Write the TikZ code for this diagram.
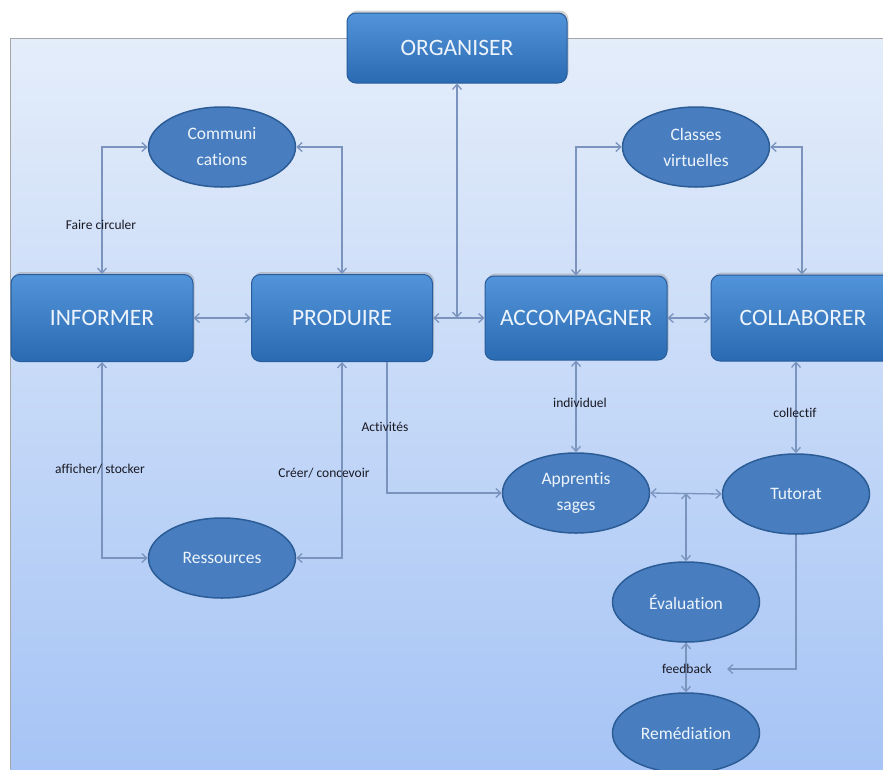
\documentclass[tikz,border=0pt]{standalone}
\usepackage{fontspec}
\setmainfont{Carlito}[Ligatures=NoCommon]
\usetikzlibrary{shapes.geometric,arrows.meta,shadows,calc}
\definecolor{boxtop}{RGB}{82,148,218}
\definecolor{boxbot}{RGB}{42,106,178}
\definecolor{boxline}{RGB}{40,92,155}
\definecolor{ellfill}{RGB}{72,126,192}
\definecolor{ellline}{RGB}{44,92,150}
\definecolor{conncol}{RGB}{122,148,190}
\definecolor{txtcol}{RGB}{238,244,251}
\definecolor{bgtop}{RGB}{228,237,250}
\definecolor{bgbot}{RGB}{166,196,245}
\definecolor{lblcol}{RGB}{25,25,35}
\tikzset{
  bigbox/.style={rectangle, rounded corners=9pt, draw=boxline, line width=1pt,
    top color=boxtop, bottom color=boxbot, text=txtcol, inner sep=0pt,
    font=\fontsize{23.5}{27}\selectfont,
    drop shadow={opacity=0.35, shadow xshift=1.5pt, shadow yshift=2.5pt}},
  oval/.style={ellipse, draw=ellline, line width=1.5pt, fill=ellfill, text=txtcol,
    minimum width=147pt, minimum height=80pt, inner sep=0pt, align=center,
    font=\fontsize{17.5}{26}\selectfont},
  conn/.style={draw=conncol, line width=1.3pt,
    arrows={Straight Barb[length=5pt,width=9pt]-Straight Barb[length=5pt,width=9pt]}},
  conn1/.style={draw=conncol, line width=1.3pt, -{Straight Barb[length=5pt,width=9pt]}},
  lbl/.style={text=lblcol, inner sep=0pt, font=\fontsize{13.5}{15}\selectfont}
}
\begin{document}
\begin{tikzpicture}[x=1pt,y=-1pt]
\useasboundingbox (0,0) rectangle (883,769);
\clip (0,0) rectangle (883,769);
% background panel
\fill[white] (0,0) rectangle (883,769);
\shade[top color=bgtop, bottom color=bgbot] (10,38) rectangle (883,769);
\draw[gray!70, line width=1pt] (883,38) -- (10,38) -- (10,769);

% boxes
\node[bigbox, minimum width=220pt, minimum height=70pt] (org) at (457,48) {ORGANISER};
\node[bigbox, minimum width=182pt, minimum height=87pt] (inf) at (102,318) {INFORMER};
\node[bigbox, minimum width=181pt, minimum height=87pt] (prod) at (342,318) {PRODUIRE};
\node[bigbox, minimum width=182pt, minimum height=84pt] (acc) at (576,318) {ACCOMPAGNER};
\node[bigbox, minimum width=184pt, minimum height=86pt] (col) at (803,318) {COLLABORER};

% ellipses
\node[oval] (comm) at (222,147) {Communi\\cations};
\node[oval] (cv) at (696,147) {Classes\\virtuelles};
\node[oval] (res) at (222,558) {Ressources};
\node[oval] (app) at (576,493) {Apprentis\\sages};
\node[oval] (tut) at (796,494) {Tutorat};
\node[oval] (eva) at (686,602) {Évaluation};
\node[oval] (rem) at (686,733) {Remédiation};

% connectors
\draw[conn] (comm.west) -| (inf.north);
\draw[conn] (comm.east) -| (prod.north);
\draw[conn] (cv.west) -| (acc.north);
\draw[conn] (cv.east) -| ([xshift=-1pt]col.north);
\draw[conn] (inf) -- (prod);
\draw[conn] (prod) -- (acc);
\draw[conn] (acc) -- (col);
\coordinate (orgj) at (org.south |- acc.west);
\draw[conn] (org.south) -- (orgj);
\draw[conn] (inf.south) |- (res.west);
\draw[conn] (prod.south) |- (res.east);
\draw[conn1] ([xshift=45pt]prod.south) |- (app.west);
\draw[conn] (acc.south) -- (app.north);
\draw[conn] (tut.north |- col.south) -- (tut.north);
\draw[conn] (app.east) -- (tut.west);
\draw[conn] (eva.north |- app.east) -- (eva.north);
\draw[conn] (eva.south) -- (rem.north);
\coordinate (fb) at (727,669);
\draw[conn1] (tut.south) |- (fb);

% labels
\node[lbl] (l1) at (101,225) {Faire circuler};
\node[lbl] (l2) at (100,469) {afficher/ stocker};
\node[lbl] (l3) at (324,473) {Créer/ concevoir};
\node[lbl] (l4) at (385,427) {Activités};
\node[lbl] (l5) at (580,403) {individuel};
\node[lbl] (l6) at (795,413) {collectif};
\node[lbl] (l7) at (687,669) {feedback};
\end{tikzpicture}
\end{document}
